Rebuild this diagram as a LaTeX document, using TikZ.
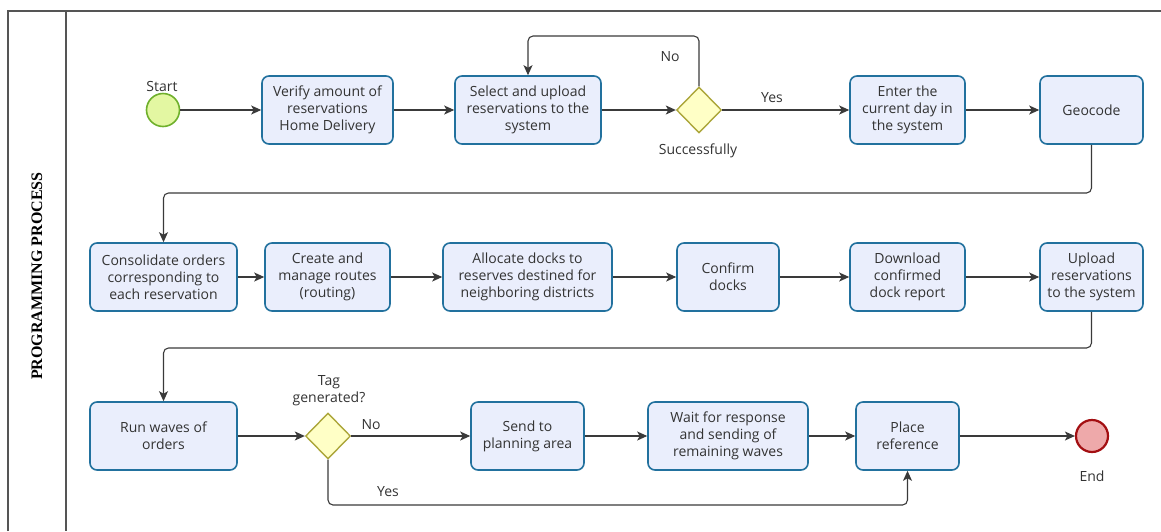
\documentclass[tikz,border=0pt]{standalone}
\usepackage{fontspec}
\setmainfont{Open Sans}
\newfontfamily\lanefont{Liberation Serif}
\usetikzlibrary{shapes.geometric,arrows.meta}

\definecolor{taskfill}{HTML}{EAEEFC}
\definecolor{taskline}{HTML}{22719E}
\definecolor{gwfill}{HTML}{FFFFC6}
\definecolor{gwline}{HTML}{ACA63A}
\definecolor{startfill}{HTML}{E3F7A2}
\definecolor{startline}{HTML}{6FB02C}
\definecolor{endfill}{HTML}{EEA9AA}
\definecolor{endline}{HTML}{A30F12}
\definecolor{flowgrey}{HTML}{3A3A3A}
\definecolor{textgrey}{HTML}{333333}
\definecolor{framegrey}{HTML}{555555}

\tikzset{
  lbl/.style={font=\fontsize{14}{17}\selectfont, text=textgrey, align=center, inner sep=0pt},
  task/.style={rectangle, rounded corners=7pt, draw=taskline, fill=taskfill,
    line width=1.6pt, minimum height=68pt, align=center, inner sep=1pt,
    font=\fontsize{14}{17}\selectfont, text=textgrey},
  gateway/.style={diamond, draw=gwline, fill=gwfill, line width=1.4pt,
    minimum width=45pt, minimum height=46pt, inner sep=0pt},
  startev/.style={circle, draw=startline, fill=startfill, line width=1.6pt,
    minimum size=33pt, inner sep=0pt},
  endev/.style={circle, draw=endline, fill=endfill, line width=2.2pt,
    minimum size=32pt, inner sep=0pt},
  flow/.style={draw=flowgrey, line width=1.1pt, rounded corners=5pt,
    -{Stealth[length=10pt,width=9pt,inset=2.5pt]}},
  lane/.style={draw=framegrey, line width=1.5pt}
}

\begin{document}
\begin{tikzpicture}[x=1pt,y=-1pt]
\useasboundingbox (0,0) rectangle (1161,531);

% pool frame and lane header
\draw[lane] (8,531) -- (8,11) -- (1161,11);
\draw[lane] (66,11) -- (66,531);
\node[rotate=90, font=\lanefont\bfseries\fontsize{16}{16}\selectfont, text=black]
  (lanetitle) at (37,276) {PROGRAMMING PROCESS};

% first row
\node[startev] (start) at (163,110) {};
\node[lbl] (startlbl) at (162,86) {Start};
\node[task, minimum width=131pt] (verify) at (327.5,110)
  {Verify amount of\\reservations\\Home Delivery};
\node[task, minimum width=146pt] (select) at (528,110)
  {Select and upload\\reservations to the\\system};
\node[gateway] (gw1) at (699,110) {};
\node[lbl] (succ) at (698,151) {Successfully};
\node[task, minimum width=115pt] (enter) at (907.5,110)
  {Enter the\\current day in\\the system};
\node[task, minimum width=103pt] (geocode) at (1091.5,110) {Geocode};

% second row
\node[task, minimum width=147pt] (consolidate) at (163.5,277)
  {Consolidate orders\\corresponding to\\each reservation};
\node[task, minimum width=125pt] (routes) at (327.5,277)
  {Create and\\manage routes\\(routing)};
\node[task, minimum width=169pt] (allocate) at (527.5,277)
  {Allocate docks to\\reserves destined for\\neighboring districts};
\node[task, minimum width=102pt] (confirm) at (728,277) {Confirm\\docks};
\node[task, minimum width=115pt] (download) at (907.5,277)
  {Download\\confirmed\\dock report};
\node[task, minimum width=103pt] (upload) at (1091.5,277)
  {Upload\\reservations\\to the system};

% third row
\node[task, minimum width=147pt] (runwaves) at (163.5,436) {Run waves of\\orders};
\node[gateway] (gw2) at (328,436) {};
\node[lbl] (taglbl) at (329,391) {Tag\\generated?};
\node[task, minimum width=113pt] (send) at (527.5,436) {Send to\\planning area};
\node[task, minimum width=160pt] (wait) at (728,436)
  {Wait for response\\and sending of\\remaining waves};
\node[task, minimum width=103pt] (place) at (907.5,436) {Place\\reference};
\node[endev] (end) at (1092,436) {};
\node[lbl] (endlbl) at (1092,476) {End};

% sequence flows, first row
\draw[flow] (start) -- (verify);
\draw[flow] (verify) -- (select);
\draw[flow] (select) -- (gw1);
\draw[flow] (gw1.north) -- (gw1.north |- 0,36) -| (select.north);
\node[lbl] (nolbl1) at (670,57) {No};
\draw[flow] (gw1) -- (enter);
\node[lbl] (yeslbl1) at (772,98) {Yes};
\draw[flow] (enter) -- (geocode);
\draw[flow] (geocode.south) -- (geocode.south |- 0,193) -| (consolidate.north);

% second row
\draw[flow] (consolidate) -- (routes);
\draw[flow] (routes) -- (allocate);
\draw[flow] (allocate) -- (confirm);
\draw[flow] (confirm) -- (download);
\draw[flow] (download) -- (upload);
\draw[flow] (upload.south) -- (upload.south |- 0,348) -| (runwaves.north);

% third row
\draw[flow] (runwaves) -- (gw2);
\draw[flow] (gw2) -- (send);
\node[lbl] (nolbl2) at (371,425) {No};
\draw[flow] (send) -- (wait);
\draw[flow] (wait) -- (place);
\draw[flow] (place) -- (end);
\draw[flow] (gw2.south) -- (gw2.south |- 0,505) -| (place.south);
\node[lbl] (yeslbl2) at (388,492) {Yes};
\end{tikzpicture}
\end{document}
